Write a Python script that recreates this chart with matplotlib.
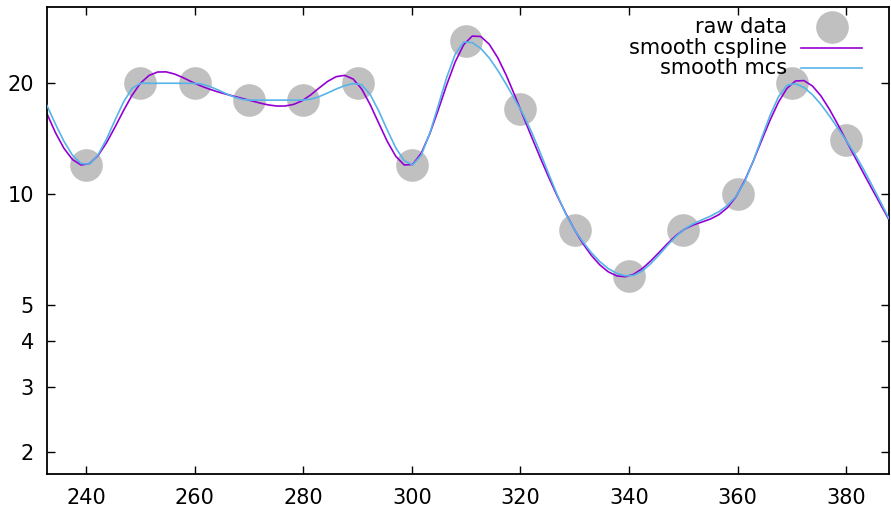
import numpy as np
import matplotlib
matplotlib.use("Agg")
import matplotlib.pyplot as plt
from matplotlib.lines import Line2D

# ---- data ----
x_data = [230, 240, 250, 260, 270, 280, 290, 300, 310, 320, 330, 340, 350, 360, 370, 380, 390]
y_data = [21, 12, 20, 20, 18, 18, 20, 12, 26, 17, 8, 6, 8, 10, 20, 14, 7.5]
y_ticks = [2, 3, 4, 5, 10, 20]
x_ticks = [240, 260, 280, 300, 320, 340, 360, 380]
legend_labels = ["raw data", "smooth cspline", "smooth mcs"]

XMIN, XMAX = 232.8, 387.9
YMIN, YMAX = 1.743, 32.2

x = np.array(x_data, float)
ly = np.log10(np.array(y_data, float))


def natural_cspline(x, y, xs):
    n = len(x)
    h = np.diff(x)
    A = np.zeros((n, n))
    b = np.zeros(n)
    A[0, 0] = 1
    A[-1, -1] = 1
    for i in range(1, n - 1):
        A[i, i - 1] = h[i - 1]
        A[i, i] = 2 * (h[i - 1] + h[i])
        A[i, i + 1] = h[i]
        b[i] = 6 * ((y[i + 1] - y[i]) / h[i] - (y[i] - y[i - 1]) / h[i - 1])
    M = np.linalg.solve(A, b)
    idx = np.clip(np.searchsorted(x, xs) - 1, 0, n - 2)
    x0, x1 = x[idx], x[idx + 1]
    hh = x1 - x0
    t0 = x1 - xs
    t1 = xs - x0
    return (M[idx] * t0 ** 3 / (6 * hh) + M[idx + 1] * t1 ** 3 / (6 * hh)
            + (y[idx] / hh - M[idx] * hh / 6) * t0
            + (y[idx + 1] / hh - M[idx + 1] * hh / 6) * t1)


def mcs(x, y, xs):
    n = len(x)
    h = np.diff(x)
    d = np.diff(y) / h
    m = np.zeros(n)
    m[0] = d[0]
    m[-1] = d[-1]
    for k in range(1, n - 1):
        if d[k - 1] * d[k] <= 0:
            m[k] = 0
        else:
            m[k] = (d[k - 1] + d[k]) / 2
    for k in range(n - 1):
        if d[k] == 0:
            m[k] = 0
            m[k + 1] = 0
        else:
            a = m[k] / d[k]
            bb = m[k + 1] / d[k]
            s = a * a + bb * bb
            if s > 9:
                tau = 3 / np.sqrt(s)
                m[k] = tau * a * d[k]
                m[k + 1] = tau * bb * d[k]
    idx = np.clip(np.searchsorted(x, xs) - 1, 0, n - 2)
    hh = x[idx + 1] - x[idx]
    t = (xs - x[idx]) / hh
    h00 = 2 * t ** 3 - 3 * t ** 2 + 1
    h10 = t ** 3 - 2 * t ** 2 + t
    h01 = -2 * t ** 3 + 3 * t ** 2
    h11 = t ** 3 - t ** 2
    return h00 * y[idx] + h10 * hh * m[idx] + h01 * y[idx + 1] + h11 * hh * m[idx + 1]


# gnuplot default: 100 samples across the plotted x range
xs = np.linspace(XMIN, XMAX, 100)
cs = 10 ** natural_cspline(x, ly, xs)
mc = 10 ** mcs(x, ly, xs)

fig = plt.figure(figsize=(8.91, 5.07), dpi=100)
ax = fig.add_axes([47 / 891, 1 - 474 / 507, (889 - 47) / 891, (474 - 7) / 507])
ax.set_yscale("log")

xd = np.array(x_data, float)
yd = np.array(y_data, float)
vis = (xd >= XMIN) & (xd <= XMAX)
ax.plot(xd[vis], yd[vis], "o", ms=23.5, color="#c0c0c0", mec="none", zorder=1)
ax.plot(xs, cs, color="#9400d3", lw=1.2, zorder=2)
ax.plot(xs, mc, color="#56b4e9", lw=1.2, zorder=3)

ax.set_xlim(XMIN, XMAX)
ax.set_ylim(YMIN, YMAX)
ax.set_xticks(x_ticks)
ax.set_xticklabels([str(v) for v in x_ticks])
ax.set_yticks(y_ticks)
ax.set_yticklabels([str(v) for v in y_ticks])
ax.yaxis.set_minor_locator(matplotlib.ticker.NullLocator())
ax.tick_params(direction="in", length=6, width=1.0, labelsize=15, top=True, right=True,
               colors="black")
ax.tick_params(axis="x", pad=10)
ax.tick_params(axis="y", pad=9.5)
for s in ax.spines.values():
    s.set_linewidth(1.3)

# legend (right-aligned text, samples at right)
tr = ax.transAxes
def ax_x(px):
    return (px - 47) / (889 - 47)
def ax_y(py):
    return 1 - (py - 7) / (474 - 7)

rows_y = [27, 47.5, 68]
tx = ax_x(787)
for lab, ry in zip(legend_labels, rows_y):
    ax.text(tx, ax_y(ry), lab, transform=tr, ha="right", va="center", fontsize=15)
ax.add_line(Line2D([ax_x(832)], [ax_y(rows_y[0])], marker="o", ms=23.5, color="#c0c0c0",
                   mec="none", transform=tr))
ax.add_line(Line2D([ax_x(801), ax_x(862)], [ax_y(rows_y[1])] * 2, color="#9400d3", lw=1.2,
                   transform=tr))
ax.add_line(Line2D([ax_x(801), ax_x(862)], [ax_y(rows_y[2])] * 2, color="#56b4e9", lw=1.2,
                   transform=tr))

fig.savefig("out.png", dpi=100)
